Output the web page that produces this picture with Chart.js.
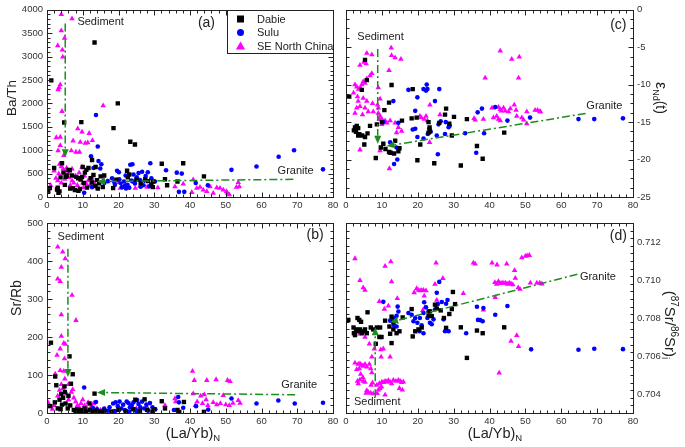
<!DOCTYPE html>
<html>
<head>
<meta charset="utf-8">
<script src="https://cdn.jsdelivr.net/npm/chart.js@4/dist/chart.umd.min.js"></script>
<style>
  body { margin: 0; background: #fff; }
  #wrap { position: relative; width: 685px; height: 447px; }
  #wrap canvas { position: absolute; left: 0; top: 0; }
</style>
</head>
<body>
<div id="wrap">
  <canvas id="pa" width="685" height="447"></canvas>
  <canvas id="pb" width="685" height="447"></canvas>
  <canvas id="pc" width="685" height="447"></canvas>
  <canvas id="pd" width="685" height="447"></canvas>
</div>
<script>
// x axis is (La/Yb)N for every panel
const xTicks = [0, 10, 20, 30, 40, 50, 60, 70, 80];
const baThTicks = [0, 500, 1000, 1500, 2000, 2500, 3000, 3500, 4000];
const srRbTicks = [0, 100, 200, 300, 400, 500];
const endTicks = [0, -5, -10, -15, -20, -25];
const srIsoTicks = [0.704, 0.706, 0.708, 0.710, 0.712];

// (a) Ba/Th
const dabieBaTh = [[1.2,2490],[13.3,3300],[9.6,1600],[19.8,2000],[18.6,1470],[23.3,1180],[24.6,1120],[4.8,1590],[32.1,710],[38.1,720],[43.9,440],[12.6,790],
  [0.8,190],[0.3,110],[2,620],[2.8,160],[3.2,90],[3.5,120],[3.8,420],[4.2,720],[4.6,520],[5,260],[5.5,460],[6,580],[6.4,570],[7,460],[7.2,190],[7.8,150],
  [8.2,430],[8.7,400],[9.2,170],[9.4,370],[9.8,430],[10.3,300],[10.6,520],[11,580],[11.2,200],[11.6,620],[12.2,400],[12.6,310],[13,470],[13.5,240],[14,360],
  [14.6,290],[15,440],[16,460],[15.6,210],[18.5,190],[19.4,370],[22.4,560],[22.6,420],[23,480],[25,370],[26.2,300],[27.5,380],[28.3,340],[29.2,270],[29.6,210],
  [29.7,330],[33,380],[33.6,250],[36.5,330],[6.5,180],[8.8,130],[3,200],[5.2,430],[10,640],[13.6,640],[14.2,180]];
const suluBaTh = [[13.7,1750],[14.2,1080],[12.3,870],[69.1,1000],[64.8,860],[58.6,650],[77.2,590],[51.6,580],[37.7,500],[36.3,520],[28.9,720],[23.3,690],
  [23.9,700],[33.3,570],[41.6,300],[45,250],[36.9,110],[38.4,110],[10.4,90],[14.4,770],[14.9,610],[13,620],[17,340],[18.2,400],[19,260],[19.6,560],[20.1,530],
  [20.6,300],[21,210],[21.5,330],[22,460],[22.5,260],[23,200],[23.6,350],[24.2,480],[24.6,290],[25.1,420],[25.6,510],[26,360],[26.6,540],[27,250],[27.6,450],
  [28.2,530],[28.6,230],[29.2,400],[30.2,330],[26.2,220],[22.1,180],[20.2,380],[16,300],[15.2,700],[12.6,210],[18.8,320],[21.8,240],[24,330],[27.3,350]];
const seBaTh = [[4,3900],[7,3810],[4,3550],[4.9,3390],[3,3230],[4.3,3140],[4.4,2990],[3.7,2400],[3.4,2340],[3.1,2290],[15.7,1950],[4.2,1830],[8.6,1460],
  [9.8,1390],[11.8,1360],[2.6,1270],[3.7,1280],[7.3,1200],[9.3,1170],[10.7,1150],[11.4,1160],[12.7,1210],[3.7,1100],[3.1,990],[6.8,990],[8.1,960],[9.1,960],
  [4.7,890],[9.8,640],[15.8,360],[20,310],[20.5,190],[24.7,190],[35.8,220],[38.1,280],[40.9,370],[41.9,190],[42.8,210],[43.7,150],[44.7,120],[45.6,220],
  [46.5,80],[48.4,190],[49.3,150],[50.2,120],[51,50],[53.5,310],[53.8,220],[53,210],[47.5,200],[40.5,100],[50.5,80],[3.5,700],[4,650],[4.5,600],[5,550],
  [5.5,620],[6,500],[2.5,400],[3,350],[4,300],[5,380],[6,420],[7,350],[7.5,300],[8,450],[8.5,250],[9,520],[9.5,400],[10,300],[10.5,450],[11,280],[11.5,350],
  [12,250],[12.5,420],[13,320],[14,200],[6.5,250],[7,600],[0.3,150],[1,250],[3.3,500],[2,560],[10.2,200],[26,230],[28,210],[31,200],[17,330],[22,270]];

// (b) Sr/Rb
const dabieSrRb = [[1.1,185],[6.3,149],[7.2,102],[2.3,96],[2.6,73],[4.9,70],[6.7,77],[0.9,18],[13.3,51],[11.9,25],[32.1,31],[38.3,29],[43.9,3],[27.3,36],
  [24.7,35],[4,50],[4.5,40],[3.5,35],[5.2,25],[5.8,12],[6.5,20],[3,12],[2.2,28],[7.5,8],[8,5],[8.5,10],[9,3],[9.5,8],[10,5],[10.5,12],[11,4],[12,8],[12.5,3],
  [13.5,6],[14.5,4],[15.5,3],[16,6],[18,4],[20,8],[22,5],[24,10],[26,6],[28,8],[29.5,4],[30,10],[33,12],[36.5,8],[37,3],[5,55],[4.2,22],[3.8,10],[6,45]];
const suluSrRb = [[10.4,67],[13.7,29],[64.7,33],[69.3,25],[77.2,27],[58.6,25],[51.6,38],[45.1,9],[36.9,28],[41.7,18],[38.1,14],[36.7,42],[14,10],[15,5],
  [16,12],[17,6],[18.5,25],[19.2,28],[19.8,18],[20.3,30],[20.8,12],[21.3,22],[21.8,8],[22.3,30],[22.8,26],[23.2,15],[23.7,20],[24.2,28],[24.6,10],[25.2,34],
  [25.6,24],[26.1,15],[26.6,30],[27.2,12],[27.8,22],[28.3,6],[28.8,26],[29.5,15],[30.3,10],[17.5,15],[19,5],[12.8,14],[14.8,2],[35.5,8],[25,5],[23,4]];
const seSrRb = [[3,437],[4.4,424],[5.1,406],[4,384],[3,353],[3.7,346],[7,310],[4,259],[8.1,244],[4,202],[4.7,184],[5.1,181],[3.7,169],[2.8,152],[4.9,143],
  [3.7,112],[4.7,110],[2.3,103],[40.7,110],[41.2,86],[44.7,86],[47.3,88],[50.5,86],[51.2,83],[40.9,51],[43,45],[44,48],[49.3,46],[35.8,38],[53.5,33],[54,26],
  [42,30],[43.5,25],[45,20],[46.5,28],[47.5,22],[48.5,25],[50,22],[51,20],[52,26],[41.5,20],[44.5,35],[33,20],[36,30],[3,45],[3.5,60],[4.5,65],[5.5,50],
  [6,35],[6.8,55],[7.5,40],[8,30],[8.5,20],[9,15],[9.5,25],[10,35],[10.5,20],[11,15],[11.5,28],[12,10],[12.5,18],[13,25],[14,12],[2,20],[1.5,10],[0.3,28],
  [5,90],[6,75],[4,75],[7.2,62],[15,8],[20,10],[25,12],[28,15]];

// (c) eNd(t)
const dabieEnd = [[0.9,-11.6],[5.3,-6.7],[5.8,-9.4],[4.4,-10.7],[12.7,-10.05],[12,-12.4],[10.7,-13.4],[8.6,-15.3],[6.7,-15.5],[2.5,-15.7],[3.4,-15.8],
  [2.8,-16.3],[2.2,-16.1],[3.7,-16.6],[4.5,-16.8],[5.3,-17],[3.4,-16.8],[3,-15.5],[6,-16.5],[5.1,-18],[8.3,-19.8],[9.7,-18.4],[10.4,-17.9],[12,-19],
  [12.4,-19.1],[13.4,-19.2],[14.6,-18.9],[14.9,-18.5],[13.7,-17.5],[15.6,-14.8],[18.3,-14.5],[18.6,-10.6],[19.7,-14.4],[20.7,-18],[19.9,-20.1],[23,-15],
  [23.3,-15.7],[23.4,-16.2],[23,-16.4],[24.6,-20.5],[26,-15.1],[27.6,-14],[27.9,-13.2],[28.8,-15.2],[29.5,-16.8],[30.1,-14.3],[32,-20.8],[33.7,-14.6],
  [36.5,-18.2],[38.1,-19.9],[44.1,-16.4],[11,-18.6],[10,-15]];
const suluEnd = [[13.2,-12.2],[14.6,-15.1],[14.1,-18.4],[13.4,-20.6],[14.3,-20],[12.3,-17.7],[10.4,-15],[17.4,-10.7],[19.9,-11.7],[21.6,-10.6],[22.3,-10.8],
  [22.7,-10.6],[22.5,-10],[26,-10.6],[24.8,-12.2],[19.3,-13.5],[18.6,-16],[19.3,-15.9],[19.9,-17],[21.6,-17.2],[22.8,-16.6],[23.6,-16.3],[23.2,-15.9],
  [25.3,-16.8],[25.6,-19.3],[26.4,-14.9],[25.8,-15.3],[27.8,-15],[28.6,-15.7],[28.9,-15.5],[27.6,-16.6],[33.2,-16.5],[36.7,-13.7],[37.9,-13.2],[38.5,-16.5],
  [36.3,-19.1],[41.6,-13],[45,-14.8],[51.3,-14.4],[64.8,-14.6],[69.2,-14.6],[77.2,-14.5]];
const seEnd = [[12.6,-5.1],[12.7,-6.1],[13.7,-6.4],[15.3,-6.6],[5.8,-5.8],[7.2,-6],[5,-7],[5.6,-7.2],[3.9,-7.4],[12,-8.1],[9,-10.4],[2.5,-10],[3,-10.3],
  [3.5,-10.6],[4,-10.4],[4.4,-10],[5.8,-9.2],[6.7,-8.8],[7.2,-8.5],[4.8,-9.6],[5.3,-9.8],[2.1,-11.1],[3.2,-11.6],[4.8,-11.8],[3.4,-12.2],[5.8,-12.2],
  [7.4,-12.5],[3.9,-12.9],[5.3,-13.1],[3,-13.1],[2.5,-13.8],[4.6,-14],[6.2,-13.6],[7.6,-13.6],[9,-13.8],[9.5,-14.2],[9.5,-11.9],[8.8,-12.7],[9,-13.1],
  [10,-14.6],[10.9,-14.8],[11.4,-15.1],[12.3,-14.8],[13.7,-15.1],[14.6,-15.7],[15.5,-16.2],[14.1,-16.4],[9.3,-14.6],[10,-15.3],[9.5,-18.8],[12.1,-21.2],
  [3.9,-18.7],[20.6,-14.2],[21,-14.4],[21.8,-14.6],[22.3,-14.2],[22.7,-14.8],[23.3,-17.7],[23.4,-12.7],[26.2,-14],[43,-5.5],[46.2,-6.6],[48.3,-6.3],
  [48.1,-9.1],[38.8,-9.1],[40.7,-13.1],[41.1,-14.4],[42,-14.2],[42.5,-13],[43,-13.3],[43.3,-13.5],[43.9,-13.1],[44.4,-13.5],[45.3,-13.6],[45.8,-13.2],
  [46.9,-12.7],[47.4,-13.4],[47.6,-14.2],[49,-14.4],[49.5,-14.7],[50.4,-13.6],[52.7,-13.4],[53.4,-13.4],[54,-13.6],[54.2,-13.6],[38.3,-14.6],[35.7,-14.5],
  [36,-14.7],[42.5,-14.6],[43,-14.8],[50.4,-15.2]];

// (d) (87Sr/86Sr)i
const dabieSr = [[0.65,0.7079],[2.1,0.7075],[2.8,0.7074],[3.4,0.7073],[2.5,0.7071],[3.9,0.7074],[4.4,0.7072],[4.8,0.7073],[5.3,0.7074],[2.2,0.7072],
  [3.2,0.7080],[3.7,0.7079],[4.2,0.7078],[6,0.7083],[5.8,0.7072],[6.9,0.7075],[7.6,0.7074],[8.6,0.7075],[9.5,0.7075],[9.9,0.7070],[9.3,0.7070],[8.3,0.70664],
  [10.9,0.70786],[12.1,0.70755],[12.7,0.70807],[13.2,0.70777],[12.3,0.70717],[13.2,0.7074],[14.1,0.7072],[14.9,0.7073],[12.7,0.70668],[15.8,0.70803],
  [18.3,0.70847],[18.6,0.70703],[19.3,0.7073],[20.2,0.7074],[21.1,0.7075],[23,0.70812],[23.4,0.70835],[24.8,0.7087],[25.3,0.7085],[23.9,0.7081],[26.4,0.7084],
  [27.3,0.7080],[27.9,0.70748],[28.8,0.70821],[29.5,0.70847],[29.8,0.70937],[30.4,0.70873],[32,0.70751],[33.7,0.7059],[36.5,0.70734],[38.1,0.7072],[44.1,0.70751]];
const suluSr = [[10.4,0.70885],[12.3,0.70786],[13,0.7079],[13.7,0.7080],[14.1,0.70812],[14.6,0.70834],[14.4,0.7086],[13.4,0.7076],[14.1,0.70755],
  [17.4,0.70826],[18.3,0.70817],[18.8,0.70783],[19.3,0.708],[19.9,0.70775],[20.6,0.708],[21.1,0.70762],[21.6,0.70826],[21.8,0.70883],[22.3,0.70856],
  [22.7,0.708],[23,0.70835],[23.4,0.70775],[23.9,0.70767],[24.4,0.70793],[24.8,0.70845],[25.3,0.70933],[25.6,0.70874],[26,0.7099],[26.7,0.70884],
  [27.2,0.70793],[27.9,0.70875],[28.3,0.70895],[28.6,0.7073],[27.6,0.7073],[21.6,0.7072],[20.5,0.7073],[33.5,0.7072],[36.5,0.70859],[36.8,0.7079],
  [37.4,0.70789],[38.1,0.70783],[38.3,0.70852],[41.6,0.70817],[45,0.70863],[51.6,0.70635],[64.8,0.70633],[69.2,0.70638],[77.2,0.70636]];
const seSr = [[2.5,0.71113],[3.9,0.70998],[4.8,0.7096],[5.3,0.70946],[12.5,0.71096],[12.7,0.70991],[10.9,0.71073],[9.3,0.70887],[11.8,0.70864],
  [14.3,0.70903],[10.7,0.70847],[25.1,0.7109],[19.7,0.70955],[20.2,0.70946],[20.7,0.70944],[21.1,0.70945],[21.6,0.70946],[22.3,0.70944],[24.8,0.70978],
  [27,0.71009],[19,0.70934],[21.8,0.70916],[21.4,0.7084],[22,0.70855],[32.7,0.70929],[25.3,0.70894],[35.5,0.7109],[36,0.71085],[40.7,0.7109],[42.1,0.7108],
  [44.8,0.71085],[47,0.7105],[47.2,0.7101],[41.5,0.70987],[42,0.70978],[42.5,0.70992],[43,0.70982],[43.5,0.70985],[44,0.70983],[44.5,0.70985],[45,0.70978],
  [45.5,0.70985],[46,0.7098],[46.5,0.70975],[49,0.71117],[50,0.71125],[50.5,0.71128],[51.1,0.7113],[48,0.7096],[48.5,0.70952],[51.4,0.70985],[53.2,0.70985],
  [54,0.70985],[54.6,0.7098],[38.3,0.70842],[41.6,0.70908],[47.6,0.70708],[48.1,0.7065],[46,0.70678],[42.7,0.70511],[2.5,0.70564],[3.4,0.70557],[3.9,0.7056],
  [4.4,0.70552],[4.8,0.70547],[5.3,0.70557],[5.8,0.70543],[6.5,0.70557],[6.9,0.70534],[3.7,0.70534],[3,0.70529],[7.2,0.70512],[4.1,0.70504],[4.7,0.70487],
  [3.9,0.70475],[4.8,0.70468],[5.3,0.70463],[3.2,0.70468],[3.4,0.70454],[5.8,0.70419],[6.2,0.7041],[6.9,0.70405],[7.6,0.70402],[5.6,0.70405],[7.4,0.70459],
  [7,0.70447],[8.6,0.70447],[9.3,0.70455],[10,0.70464],[10.4,0.70461],[10.9,0.70468],[11.3,0.70464],[11.8,0.70471],[12.3,0.70464],[12.7,0.70455],
  [13.2,0.70473],[13.9,0.70468],[14.6,0.70473],[15.1,0.70468],[15.5,0.70461],[16,0.70464],[14.9,0.7043],[15.7,0.70421],[9.5,0.70429],[9,0.70421],
  [10.9,0.70395],[8.7,0.70403],[9.9,0.70438],[7.9,0.70638],[9.7,0.70633],[10.4,0.70638],[12.3,0.70595],[9.8,0.70595],[7.2,0.70595],[3.9,0.70716],
  [5.3,0.70699],[6.5,0.70664]];

// trend arrows (start -> arrow tip) in data units
const sedLineA = [[5.1,3705],[5.1,847]];
const graLineA = [[68.9,378],[14,330]];
const sedLineB = [[5.85,432],[5.85,95]];
const graLineB = [[69.4,48],[14,54]];
const sedLineC = [[8.84,-5.25],[8.84,-17.9]];
const graLineC = [[66.8,-13.85],[11.35,-18.2]];
const sedLineD = [[8.15,0.70383],[8.15,0.70751]];
const graLineD = [[64.5,0.7103],[12.3,0.70777]];

const FONT = '"Liberation Sans", Arial, sans-serif';
const W = 685, H = 447, YW = 44, XH = 16;
const GREEN = '#1e8c1e';
const series = [
  { label: 'Dabie', style: 'rect', r: 3.1, color: '#000000' },
  { label: 'Sulu', style: 'circle', r: 2.3, color: '#0000ff' },
  { label: 'SE North China', style: 'triangle', r: 3.2, color: '#ff00ff' }
];

function marker(ctx, style, x, y, r, color) {
  ctx.fillStyle = color;
  ctx.beginPath();
  if (style === 'rect') ctx.rect(x - r, y - r, 2 * r, 2 * r);
  else if (style === 'circle') ctx.arc(x, y, r, 0, Math.PI * 2);
  else { ctx.moveTo(x, y - r * 1.15); ctx.lineTo(x + r * 1.15, y + r * 0.85); ctx.lineTo(x - r * 1.15, y + r * 0.85); ctx.closePath(); }
  ctx.fill();
}

// parts: [text, size, baseline shift]
function richText(ctx, parts, cx, cy, rot) {
  ctx.save();
  ctx.translate(cx, cy);
  ctx.rotate(rot);
  ctx.fillStyle = '#222';
  ctx.textAlign = 'left';
  ctx.textBaseline = 'alphabetic';
  let w = 0;
  parts.forEach(p => { ctx.font = p[1] + 'px ' + FONT; w += ctx.measureText(p[0]).width; });
  let xx = -w / 2;
  const base = parts[0][1] * 0.36;
  parts.forEach(p => {
    ctx.font = p[1] + 'px ' + FONT;
    ctx.fillText(p[0], xx, base + p[2]);
    xx += ctx.measureText(p[0]).width;
  });
  ctx.restore();
}

function arrowLine(ctx, x1, y1, x2, y2) {
  const ang = Math.atan2(y2 - y1, x2 - x1);
  const L = 8, hw = 3.5;
  const bx = x2 - Math.cos(ang) * L, by = y2 - Math.sin(ang) * L;
  ctx.setLineDash([8, 3, 2, 3]);
  ctx.beginPath(); ctx.moveTo(x1, y1); ctx.lineTo(bx, by); ctx.stroke();
  ctx.setLineDash([]);
  ctx.beginPath();
  ctx.moveTo(x2, y2);
  ctx.lineTo(bx - Math.sin(ang) * hw, by + Math.cos(ang) * hw);
  ctx.lineTo(bx + Math.sin(ang) * hw, by - Math.cos(ang) * hw);
  ctx.closePath(); ctx.fill();
}

function decoPlugin(cfg) {
  return {
    id: 'deco',
    afterDatasetsDraw(chart) {
      const { ctx, chartArea: a, scales: { x, y } } = chart;
      ctx.save();
      // trend lines
      ctx.strokeStyle = GREEN; ctx.fillStyle = GREEN; ctx.lineWidth = 1.5;
      cfg.lines.forEach(l => arrowLine(ctx, x.getPixelForValue(l[0][0]), y.getPixelForValue(l[0][1]),
        x.getPixelForValue(l[1][0]), y.getPixelForValue(l[1][1])));
      // frame
      ctx.strokeStyle = '#222'; ctx.lineWidth = 1;
      const L = Math.round(a.left) + 0.5, R = Math.round(a.right) + 0.5;
      const T = Math.round(a.top) + 0.5, B = Math.round(a.bottom) + 0.5;
      ctx.strokeRect(L, T, R - L, B - T);
      ctx.beginPath();
      for (let v = x.min; v <= x.max + 1e-9; v += cfg.xMinor) {
        const px = Math.round(x.getPixelForValue(v)) + 0.5;
        const len = xTicks.some(t => Math.abs(t - v) < 1e-6) ? 5 : 3;
        ctx.moveTo(px, B); ctx.lineTo(px, B - len);
        ctx.moveTo(px, T); ctx.lineTo(px, T + len);
      }
      const n = Math.round((y.max - y.min) / cfg.yMinor);
      for (let i = 0; i <= n; i++) {
        const v = y.min + i * cfg.yMinor;
        const py = Math.round(y.getPixelForValue(v)) + 0.5;
        const len = cfg.yTicks.some(t => Math.abs(t - v) < cfg.yMinor / 10) ? 5 : 3;
        ctx.moveTo(L, py); ctx.lineTo(L + len, py);
        ctx.moveTo(R, py); ctx.lineTo(R - len, py);
      }
      ctx.stroke();
      // labels inside the panel
      ctx.fillStyle = '#222';
      ctx.textBaseline = 'middle';
      cfg.texts.forEach(t => {
        ctx.font = t.size + 'px ' + FONT;
        ctx.textAlign = t.align || 'left';
        ctx.fillText(t.t, x.getPixelForValue(t.x), y.getPixelForValue(t.y));
      });
      if (cfg.legend) {
        const lx = R - 106, ly = T;
        ctx.fillStyle = '#fff';
        ctx.fillRect(lx, ly, R - lx, 43);
        ctx.strokeStyle = '#222';
        ctx.strokeRect(lx, ly, R - lx, 43);
        series.forEach((s, i) => {
          const yy = ly + 8.5 + i * 13.6;
          marker(ctx, s.style, lx + 13, yy, s.style === 'triangle' ? 4 : 3.5, s.color);
          ctx.fillStyle = '#222';
          ctx.font = '11px ' + FONT;
          ctx.textAlign = 'left';
          ctx.fillText(s.label, lx + 29.5, yy + 0.5);
        });
      }
      cfg.titles(ctx);
      ctx.restore();
    }
  };
}

function panel(id, area, yPos, yMin, yMax, yTicks, fmt, sets, cfg) {
  const left = yPos === 'left';
  cfg.yTicks = yTicks;
  return new Chart(document.getElementById(id), {
    type: 'scatter',
    data: {
      datasets: sets.map((d, i) => ({
        label: series[i].label,
        data: d.map(p => ({ x: p[0], y: p[1] })),
        pointStyle: series[i].style,
        pointRadius: series[i].r,
        backgroundColor: series[i].color,
        borderColor: series[i].color,
        borderWidth: 0
      }))
    },
    options: {
      responsive: false,
      animation: false,
      events: [],
      layout: {
        padding: {
          left: left ? area.l - YW : area.l,
          right: left ? W - area.r : W - area.r - YW,
          top: area.t,
          bottom: H - area.b - XH
        }
      },
      plugins: { legend: { display: false }, tooltip: { enabled: false } },
      scales: {
        x: {
          type: 'linear', position: 'bottom', min: 0, max: 80,
          grid: { display: false, drawTicks: false }, border: { display: false },
          ticks: { color: '#333', padding: 3, maxRotation: 0, font: { family: FONT, size: 9.5 } },
          afterBuildTicks: s => { s.ticks = xTicks.map(v => ({ value: v })); },
          afterFit: s => { s.height = XH; }
        },
        y: {
          type: 'linear', position: yPos, min: yMin, max: yMax,
          grid: { display: false, drawTicks: false }, border: { display: false },
          ticks: { color: '#333', padding: 4, font: { family: FONT, size: 9.5 }, callback: fmt },
          afterBuildTicks: s => { s.ticks = yTicks.map(v => ({ value: v })); },
          afterFit: s => { s.width = YW; }
        }
      }
    },
    plugins: [decoPlugin(cfg)]
  });
}

const plain = v => String(v);
const title14 = (t) => [[t, 14, 0]];
const laYb = [['(La/Yb)', 14.5, 0], ['N', 9.5, 3]];

panel('pa', { l: 47, t: 7, r: 333, b: 197 }, 'left', 0, 4000, baThTicks, plain,
  [dabieBaTh, suluBaTh, seBaTh], {
    xMinor: 2, yMinor: 100, legend: true,
    lines: [sedLineA, graLineA],
    texts: [{ t: 'Sediment', x: 8.5, y: 3745, size: 11 }, { t: 'Granite', x: 64.5, y: 546, size: 11 },
      { t: '(a)', x: 44.6, y: 3720, size: 14, align: 'center' }],
    titles: ctx => richText(ctx, [['Ba/Th', 13.5, 0]], 11, 98, -Math.PI / 2)
  });

panel('pb', { l: 47, t: 223, r: 333, b: 413 }, 'left', 0, 500, srRbTicks, plain,
  [dabieSrRb, suluSrRb, seSrRb], {
    xMinor: 2, yMinor: 20,
    lines: [sedLineB, graLineB],
    texts: [{ t: 'Sediment', x: 2.96, y: 463, size: 11 }, { t: 'Granite', x: 65.5, y: 73, size: 11 },
      { t: '(b)', x: 75, y: 468, size: 14, align: 'center' }],
    titles: ctx => {
      richText(ctx, title14('Sr/Rb'), 16, 298, -Math.PI / 2);
      richText(ctx, laYb, 193, 433, 0);
    }
  });

panel('pc', { l: 346, t: 7, r: 633, b: 197 }, 'right', -25, 0, endTicks, plain,
  [dabieEnd, suluEnd, seEnd], {
    xMinor: 2, yMinor: 1.25,
    lines: [sedLineC, graLineC],
    texts: [{ t: 'Sediment', x: 3.15, y: -3.62, size: 11 }, { t: 'Granite', x: 67, y: -12.9, size: 11 },
      { t: '(c)', x: 75.9, y: -2.0, size: 14, align: 'center' }],
    titles: ctx => richText(ctx, [['\u03b5', 16, 0], ['Nd', 9, 3], ['(t)', 14, 0]], 662, 98, Math.PI / 2)
  });

panel('pd', { l: 346, t: 223, r: 633, b: 413 }, 'right', 0.703, 0.713, srIsoTicks, v => v.toFixed(3),
  [dabieSr, suluSr, seSr], {
    xMinor: 2, yMinor: 0.0004,
    lines: [sedLineD, graLineD],
    texts: [{ t: 'Sediment', x: 2.23, y: 0.70357, size: 11 }, { t: 'Granite', x: 65.2, y: 0.71017, size: 11 },
      { t: '(d)', x: 75.9, y: 0.7123, size: 14, align: 'center' }],
    titles: ctx => {
      richText(ctx, [['(', 15, 0], ['87', 10, -6], ['Sr/', 15, 0], ['86', 10, -6], ['Sr)', 15, 0], ['i', 10, 3]], 670, 325, Math.PI / 2);
      richText(ctx, laYb, 495, 433, 0);
    }
  });
</script>
</body>
</html>
